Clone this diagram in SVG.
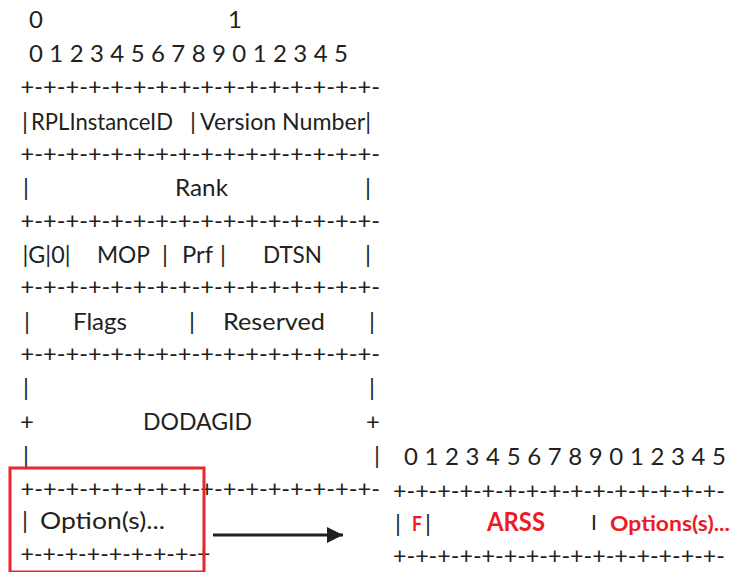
<svg xmlns="http://www.w3.org/2000/svg" width="734" height="572" viewBox="0 0 734 572">
<style>
.t{font-family:Lato,"Open Sans","Liberation Sans",sans-serif;font-size:24px;fill:#231f20}
.m{text-anchor:middle}
.r{fill:#ec1c24;font-weight:bold}
.ln{font-family:Lato,"Open Sans","Liberation Sans",sans-serif;font-size:24px;fill:#231f20}
</style>
<defs>
<marker id="ah" markerUnits="userSpaceOnUse" markerWidth="18" markerHeight="18" refX="16" refY="8" orient="auto">
<path d="M0,0 L16,8 L0,16 Z" fill="#231f20"/>
</marker>
</defs>
<rect width="734" height="572" fill="#ffffff"/>

<g id="bit-index">
<text class="t" x="29" y="28">0</text>
<text class="t" x="228" y="28">1</text>
<text class="t" x="29 49.33 69.67 90 110.33 130.67 151 171.33 191.67 212 232.33 252.67 273 293.33 313.67 334" y="62">0123456789012345</text>
</g>

<g id="separators">
<text class="ln" x="20.5" y="95" textLength="359.5" lengthAdjust="spacingAndGlyphs">+-+-+-+-+-+-+-+-+-+-+-+-+-+-+-+-</text>
<text class="ln" x="20.5" y="162" textLength="359.5" lengthAdjust="spacingAndGlyphs">+-+-+-+-+-+-+-+-+-+-+-+-+-+-+-+-</text>
<text class="ln" x="20.5" y="229" textLength="359.5" lengthAdjust="spacingAndGlyphs">+-+-+-+-+-+-+-+-+-+-+-+-+-+-+-+-</text>
<text class="ln" x="20.5" y="295" textLength="359.5" lengthAdjust="spacingAndGlyphs">+-+-+-+-+-+-+-+-+-+-+-+-+-+-+-+-</text>
<text class="ln" x="20.5" y="362" textLength="359.5" lengthAdjust="spacingAndGlyphs">+-+-+-+-+-+-+-+-+-+-+-+-+-+-+-+-</text>
<text class="ln" x="20.5" y="497" textLength="359.5" lengthAdjust="spacingAndGlyphs">+-+-+-+-+-+-+-+-+-+-+-+-+-+-+-+-</text>
<text class="ln" x="20.5" y="562" textLength="190" lengthAdjust="spacingAndGlyphs">+-+-+-+-+-+-+-+-+</text>
</g>

<g id="row-rplinstanceid">
<text class="t m" x="25" y="130">|</text>
<text class="t" x="31" y="130" textLength="142" lengthAdjust="spacingAndGlyphs">RPLInstanceID</text>
<text class="t m" x="193" y="130">|</text>
<text class="t" x="200" y="130" textLength="171" lengthAdjust="spacingAndGlyphs">Version Number|</text>
</g>

<g id="row-rank">
<text class="t m" x="26" y="196">|</text>
<text class="t" x="175" y="196" textLength="53" lengthAdjust="spacingAndGlyphs">Rank</text>
<text class="t m" x="368" y="196">|</text>
</g>

<g id="row-flags-mop">
<text class="t" x="22.5" y="263" textLength="48" lengthAdjust="spacingAndGlyphs">|G|0|</text>
<text class="t" x="97" y="263" textLength="53" lengthAdjust="spacingAndGlyphs">MOP</text>
<text class="t m" x="165" y="263">|</text>
<text class="t" x="182" y="263" textLength="31" lengthAdjust="spacingAndGlyphs">Prf</text>
<text class="t m" x="223" y="263">|</text>
<text class="t" x="263" y="263" textLength="59" lengthAdjust="spacingAndGlyphs">DTSN</text>
<text class="t m" x="368" y="263">|</text>
</g>

<g id="row-flags-reserved">
<text class="t m" x="27" y="330">|</text>
<text class="t" x="73" y="330" textLength="54" lengthAdjust="spacingAndGlyphs">Flags</text>
<text class="t m" x="192" y="330">|</text>
<text class="t" x="223" y="330" textLength="102" lengthAdjust="spacingAndGlyphs">Reserved</text>
<text class="t m" x="372" y="330">|</text>
</g>

<g id="row-dodagid">
<text class="t m" x="26" y="396">|</text>
<text class="t m" x="372" y="396">|</text>
<text class="t m" x="27" y="430">+</text>
<text class="t" x="143" y="430" textLength="109" lengthAdjust="spacingAndGlyphs">DODAGID</text>
<text class="t m" x="373" y="430">+</text>
<text class="t m" x="26" y="464">|</text>
<text class="t m" x="377" y="464">|</text>
</g>

<g id="row-options">
<text class="t m" x="25" y="529">|</text>
<text class="t" x="40" y="529" textLength="125" lengthAdjust="spacingAndGlyphs">Option(s)...</text>
</g>

<g id="highlight">
<rect x="10" y="468" width="194" height="104" fill="none" stroke="#e8242c" stroke-width="3"/>
</g>

<g id="option-detail">
<text class="t" x="404 424.5 445.1 465.6 486.1 506.7 527.2 547.7 568.3 588.8 609.3 629.9 650.4 670.9 691.5 712" y="465">0123456789012345</text>
<text class="ln" x="393" y="499" textLength="332" lengthAdjust="spacingAndGlyphs">+-+-+-+-+-+-+-+-+-+-+-+-+-+-+-</text>
<text class="t m" x="398" y="532">|</text>
<text class="t r" x="412" y="531" style="font-size:20px" textLength="10" lengthAdjust="spacingAndGlyphs">F</text>
<text class="t m" x="428" y="532">|</text>
<text class="t r" x="487" y="531" style="font-size:26px" textLength="58" lengthAdjust="spacingAndGlyphs">ARSS</text>
<text class="t" x="591" y="530" style="font-size:21px">I</text>
<text class="t r" x="610" y="531" style="font-size:20px" textLength="120" lengthAdjust="spacingAndGlyphs">Options(s)...</text>
<text class="ln" x="393" y="564" textLength="332" lengthAdjust="spacingAndGlyphs">+-+-+-+-+-+-+-+-+-+-+-+-+-+-+-</text>
</g>

<g id="connectors">
<line x1="213" y1="535" x2="343" y2="535" stroke="#231f20" stroke-width="3" marker-end="url(#ah)"/>
</g>
</svg>
